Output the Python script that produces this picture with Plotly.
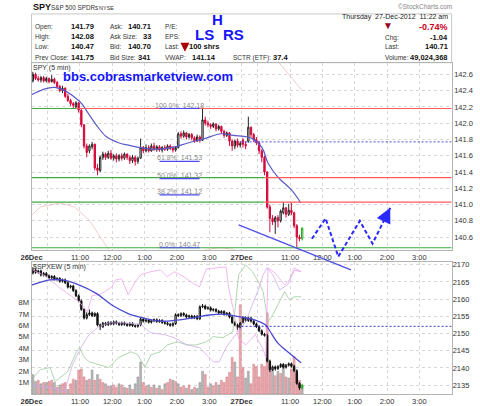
import plotly.graph_objects as go

# ---------------- data ----------------
# SPY 5-min candles, 26-Dec (bars 0-77) and 27-Dec (bars 78-100)
spy_open = [142.52,142.60,142.55,142.53,142.56,142.52,142.55,142.51,142.54,142.50,
142.45,142.40,142.43,142.33,142.28,142.24,142.20,142.25,142.16,141.98,
141.72,141.66,141.71,141.74,141.45,141.42,141.58,141.62,141.58,141.63,
141.57,141.60,141.56,141.60,141.57,141.62,141.58,141.54,141.58,141.53,
141.57,141.70,141.66,141.70,141.66,141.72,141.68,141.71,141.67,141.70,
141.68,141.72,141.69,141.67,141.70,141.87,141.84,141.88,141.83,141.86,
141.82,141.78,141.83,141.79,142.04,142.00,141.98,141.96,141.99,141.93,
141.96,141.90,141.85,141.88,141.78,141.72,141.78,141.73,
141.79,141.74,141.78,141.95,141.86,141.80,141.76,141.66,141.58,141.40,
140.97,140.83,140.79,140.84,140.80,140.90,140.96,140.88,140.93,140.90,
140.74,140.60,140.58]
spy_close = [142.60,142.55,142.53,142.56,142.52,142.55,142.51,142.54,142.50,142.45,
142.40,142.43,142.33,142.28,142.24,142.22,142.25,142.16,141.98,141.72,
141.64,141.72,141.74,141.45,141.42,141.58,141.62,141.58,141.63,141.57,
141.60,141.56,141.60,141.57,141.62,141.58,141.54,141.58,141.53,141.57,
141.70,141.66,141.70,141.66,141.72,141.68,141.71,141.67,141.70,141.68,
141.72,141.69,141.67,141.70,141.87,141.84,141.88,141.83,141.86,141.82,
141.78,141.83,141.79,142.04,142.00,141.98,141.96,141.99,141.93,141.96,
141.90,141.85,141.88,141.78,141.72,141.78,141.73,141.75,
141.74,141.72,141.95,141.86,141.80,141.76,141.66,141.58,141.40,140.97,
140.83,140.79,140.84,140.80,140.92,140.96,140.88,140.93,140.90,140.74,
140.60,140.58,140.71]
spy_high = [142.63,142.62,142.58,142.58,142.58,142.57,142.56,142.59,142.56,142.52,
142.47,142.46,142.44,142.36,142.30,142.26,142.27,142.26,142.17,141.99,
141.75,141.74,141.77,141.75,141.50,141.60,141.65,141.64,141.66,141.67,
141.62,141.63,141.62,141.63,141.64,141.63,141.60,141.61,141.60,141.59,
141.81,141.72,141.74,141.73,141.75,141.76,141.73,141.73,141.72,141.73,
141.74,141.74,141.72,141.72,141.89,141.90,141.91,141.89,141.88,141.88,
141.84,141.86,141.85,142.18,142.08,142.03,142.00,142.01,142.00,141.98,
141.97,141.92,141.90,141.89,141.80,141.80,141.81,141.78,
141.82,141.78,142.08,141.96,141.88,141.83,141.78,141.68,141.60,141.41,
141.00,140.87,140.86,140.87,140.94,141.03,140.97,141.01,141.02,140.91,
140.76,140.63,140.72]
spy_low = [142.50,142.53,142.51,142.50,142.50,142.50,142.49,142.50,142.48,142.43,
142.38,142.37,142.31,142.26,142.21,142.18,142.18,142.13,141.95,141.69,
141.58,141.63,141.68,141.42,141.36,141.40,141.55,141.55,141.56,141.55,
141.54,141.52,141.53,141.54,141.55,141.55,141.50,141.51,141.48,141.50,
141.56,141.63,141.64,141.64,141.65,141.66,141.65,141.65,141.64,141.66,
141.66,141.67,141.64,141.65,141.69,141.81,141.82,141.80,141.81,141.79,
141.76,141.77,141.76,141.78,141.97,141.95,141.93,141.94,141.90,141.91,
141.87,141.82,141.83,141.72,141.66,141.68,141.70,141.70,
141.70,141.68,141.76,141.82,141.77,141.73,141.62,141.52,141.36,140.95,
140.66,140.75,140.64,140.72,140.78,140.88,140.84,140.86,140.87,140.71,
140.47,140.55,140.56]

# SPY moving average (read at sample bars)
spy_ma_bar = [0, 8.7, 17.8, 20.7, 24, 27.6, 32.3, 36, 40.3, 46, 52, 58.4, 64.2, 70.4, 75, 80, 82, 85.6, 87.8, 91.4, 96.5, 100]
spy_ma_val = [142.35, 142.44, 142.27, 142.14, 141.98, 141.84, 141.76, 141.73, 141.70, 141.68, 141.70, 141.76, 141.81,
              141.87, 141.85, 141.83, 141.81, 141.70, 141.51, 141.34, 141.18, 141.02]

# faint overlay line in price panel
spy_ov_bar = [0, 3.3, 10.5, 16, 21.4, 25, 28.7, 30, None, 62, 65, 70, 75, 77, None, 90.5, 100.5]
spy_ov_val = [140.87, 140.97, 141.02, 140.97, 140.81, 140.63, 140.44, 140.40, None, 140.40, 140.45, 140.47, 140.45, 140.40, None, 142.80, 142.40]

# $SPXEW 5-min candles
spx_open = [2167.6,2168.5,2167.8,2168.2,2167.0,2167.5,2166.8,2166.2,2166.6,2165.8,
2166.0,2165.2,2165.6,2164.8,2163.5,2163.8,2162.5,2161.0,2159.5,2157.0,
2154.5,2155.5,2156.0,2155.2,2155.8,2152.5,2152.0,2153.0,2152.6,2153.2,
2152.8,2153.4,2153.0,2152.6,2153.1,2152.7,2152.4,2152.9,2152.3,2152.1,
2152.5,2154.2,2153.6,2153.9,2153.3,2153.7,2154.0,2153.5,2153.8,2153.2,
2153.0,2152.7,2152.4,2152.9,2155.5,2155.2,2155.8,2155.4,2154.8,2155.1,
2154.6,2155.0,2154.3,2157.8,2158.0,2157.3,2157.5,2156.8,2157.0,2156.5,
2156.0,2156.4,2155.6,2155.9,2154.8,2153.2,2152.5,2151.8,
2153.3,2154.6,2153.8,2154.5,2153.6,2152.8,2152.0,2150.8,2149.8,2149.5,
2142.0,2139.5,2140.3,2139.8,2140.4,2141.0,2140.2,2140.8,2141.2,2140.5,
2139.2,2135.5,2134.2]
spx_close = [2168.5,2167.8,2168.2,2167.0,2167.5,2166.8,2166.2,2166.6,2165.8,2166.0,
2165.2,2165.6,2164.8,2163.5,2163.8,2162.5,2161.0,2159.5,2157.0,2154.5,
2155.5,2156.0,2155.2,2155.8,2152.5,2152.0,2153.0,2152.6,2153.2,2152.8,
2153.4,2153.0,2152.6,2153.1,2152.7,2152.4,2152.9,2152.3,2152.1,2152.5,
2154.2,2153.6,2153.9,2153.3,2153.7,2154.0,2153.5,2153.8,2153.2,2153.0,
2152.7,2152.4,2152.9,2155.5,2155.2,2155.8,2155.4,2154.8,2155.1,2154.6,
2155.0,2154.3,2157.8,2158.0,2157.3,2157.5,2156.8,2157.0,2156.5,2156.0,
2156.4,2155.6,2155.9,2154.8,2153.2,2152.5,2151.8,2153.0,
2154.6,2153.8,2154.5,2153.6,2152.8,2152.0,2150.8,2149.8,2149.5,2142.0,
2139.5,2140.3,2139.8,2140.4,2141.0,2140.2,2140.8,2141.2,2140.5,2139.2,
2135.5,2134.2,2135.0]
spx_high = [2169.3,2168.9,2168.6,2168.6,2167.9,2167.9,2167.2,2167.0,2167.0,2166.4,
2166.4,2166.0,2166.0,2165.2,2164.2,2164.2,2162.9,2161.4,2159.9,2157.4,
2156.2,2157.0,2156.4,2156.2,2156.2,2152.9,2153.4,2153.4,2153.6,2153.6,
2153.8,2153.8,2153.4,2153.5,2153.5,2153.1,2153.3,2153.3,2152.7,2152.9,
2154.6,2154.6,2154.3,2154.3,2154.1,2154.4,2154.4,2154.2,2154.2,2153.6,
2153.4,2153.1,2153.3,2155.9,2155.9,2156.2,2156.2,2155.8,2155.5,2155.5,
2155.4,2155.4,2158.2,2158.6,2158.4,2157.9,2157.9,2157.4,2157.4,2156.9,
2156.8,2156.8,2156.3,2156.3,2155.2,2153.6,2152.9,2153.4,
2155.0,2155.0,2154.9,2154.9,2154.0,2153.2,2152.4,2151.2,2150.2,2149.9,
2142.4,2140.7,2140.7,2140.8,2141.4,2141.4,2141.2,2141.6,2141.6,2140.9,
2139.6,2135.9,2135.4]
spx_low = [2167.2,2167.4,2167.4,2166.6,2166.6,2166.4,2165.8,2165.8,2165.4,2165.4,
2164.8,2164.8,2164.4,2163.1,2163.1,2162.1,2160.6,2159.1,2156.6,2154.1,
2154.1,2155.1,2154.8,2154.8,2152.1,2151.0,2151.6,2152.2,2152.2,2152.4,
2152.4,2152.6,2152.2,2152.2,2152.3,2152.0,2152.0,2151.9,2151.7,2151.7,
2152.1,2153.2,2153.2,2152.9,2152.9,2153.3,2153.1,2153.1,2152.8,2152.6,
2152.3,2152.0,2152.0,2152.5,2154.8,2154.8,2155.0,2154.4,2154.4,2154.2,
2154.2,2153.9,2153.9,2157.4,2156.9,2156.9,2156.4,2156.4,2156.1,2155.6,
2155.6,2155.2,2155.2,2154.4,2152.8,2152.1,2151.0,2151.4,
2152.9,2153.4,2153.4,2153.2,2152.4,2151.6,2150.4,2149.4,2149.1,2141.6,
2138.8,2139.1,2139.2,2139.4,2140.0,2139.8,2139.8,2140.4,2140.1,2138.8,
2135.1,2133.6,2133.8]

spx_ma_bar = [0, 6.9, 11.6, 17.8, 24, 29.8, 35.9, 42.1, 47.9, 54.1, 60.2, 66, 72.2, 76.9, 79.5, 83.1, 86.7, 89.3, 91.4, 95.1, 100.1]
spx_ma_val = [2164.1, 2165.6, 2165.6, 2164.1, 2161.7, 2158.3, 2155.8, 2154.4, 2153.6, 2153.9, 2154.6, 2155.4,
              2155.6, 2154.9, 2154.6, 2153.9, 2152.6, 2149.7, 2147.3, 2144.7, 2141.5]

# volume (millions) and bar colour (g = up/grey, p = down/pink)
volume_m = [1.7,1.1,1.2,0.9,1.0,1.0,1.1,1.2,1.0,0.6,
0.8,0.9,1.0,0.4,0.9,1.3,1.2,2.1,2.2,1.5,
1.2,1.3,2.1,1.2,1.7,1.3,1.0,0.9,0.7,0.7,
0.8,0.6,0.9,0.8,0.6,0.5,0.8,0.4,0.9,1.5,
2.8,1.0,0.7,0.8,0.6,0.8,0.5,0.7,0.4,0.9,
1.0,1.3,1.2,1.1,0.9,0.6,0.7,0.5,0.8,0.4,
0.6,0.5,1.0,2.0,1.7,0.6,0.9,0.7,1.0,0.8,
1.2,1.0,1.5,1.9,3.2,2.8,1.5,7.8,
2.3,1.4,2.0,0.9,2.6,2.4,1.5,2.6,2.4,7.1,
2.6,2.3,1.6,2.0,1.8,2.6,1.5,1.4,2.2,3.3,
1.8,1.2,0.7]
volume_dir = ("ggpgpgppgp" "gppgppgppp" "gpgpgppgpg" "ppgpgpgpgg"
              "gppgpgpgpg" "ppgpgppgpg" "pgggppgppg" "pppppgpp"
              "pggppppppp" "pgpgpgpgpp" "ppg")

# faint overlay lines in lower panel (bar, value on $SPXEW scale)
green_bar = [0.7,3.3,6.9,8.7,13.4,16.7,17.8,19.6,21.4,25.0,28.7,32.3,37.0,39.5,42.1,44.3,47.9,50.4,54.1,57.7,61.3,64.9,67.5,71.1,74.7,76.9,79.5,82.0,84.2,86.0,87.8,89.6,91.4,94.0,95.8,97.6,100.1]
green_val = [2137.2,2139.5,2140.1,2136.0,2138.9,2144.7,2145.9,2143.0,2141.8,2140.9,2140.1,2143.0,2144.7,2143.8,2140.1,2143.8,2144.7,2146.7,2147.6,2146.7,2146.7,2147.6,2149.1,2148.8,2150.5,2167.1,2170.0,2168.0,2165.1,2162.2,2153.4,2155.5,2158.4,2162.2,2159.8,2160.7,2160.7]
lav_bar = [0,6.9,12.3,15.2,18.9,21.4,25.0,28.7,34.8,40.6,44.3,49.3,53.0,57.7,62.4,64.9,67.5,69.7,72.2,75.8,79.5,82.0,84.2,86.0,87.4,89.6,92.2,95.1,97.6,100.1]
lav_val = [2135.1,2134.2,2133.1,2140.9,2146.7,2149.7,2152.0,2153.1,2153.1,2152.6,2150.2,2149.7,2148.8,2146.7,2145.9,2143.8,2141.8,2141.8,2145.9,2149.7,2153.4,2158.4,2162.7,2167.1,2169.1,2167.1,2162.7,2164.2,2168.5,2168.0]
pink_bar = [0.4,5.1,10.5,17.8,20.7,22.5,26.1,29.8,31.2,33.4,35.9,38.5,40.6,44.3,47.9,50.4,53.0,56.6,60.2,62.4,64.9,69.7,72.2,73.3,75.1,76.9,79.5,83.1,86.0,87.1,87.8,90.3,94.0,95.8,97.6,100.1]
pink_val = [2168.5,2166.8,2163.3,2159.2,2156.3,2161.0,2161.6,2163.6,2165.6,2165.9,2161.3,2165.1,2167.1,2168.0,2168.5,2166.5,2168.0,2166.5,2164.5,2163.6,2168.8,2169.1,2169.4,2163.0,2156.3,2148.5,2146.7,2149.7,2145.3,2143.0,2169.1,2167.7,2164.2,2165.6,2169.1,2168.0]

# annotation levels
fib_pct = ["100.0%", "61.8%", "50.0%", "38.2%", "0.0%"]
fib_val = [142.18, 141.53, 141.32, 141.12, 140.47]
hline_val = [142.18, 141.33, 141.03, 140.47]
hline_switch_bar = [16.7, 86.4, 86.4, 156]          # green left of this bar, red right of it
spy_dotted_level = 141.77
spx_dotted_level = 2152.1
trend_bar = [76.9, 118.6]
trend_val = [140.75, 140.197]
zig_bar = [104.1, 109.2, 113.9, 121.9, 126.6, 133.2]
zig_val = [140.58, 140.83, 140.36, 140.80, 140.52, 140.96]

tick_bar = [0, 6, 18, 30, 42, 54, 66, 78, 84, 96, 108, 120, 132, 144]
tick_text = ["<b>26Dec</b>", "", "11:00", "12:00", "1:00", "2:00", "3:00",
             "<b>27Dec</b>", "", "11:00", "12:00", "1:00", "2:00", "3:00"]
price_ticks = [140.6, 140.8, 141.0, 141.2, 141.4, 141.6, 141.8, 142.0, 142.2, 142.4, 142.6]
spx_ticks = [2135, 2140, 2145, 2150, 2155, 2160, 2165, 2170]
vol_ticks = [1, 2, 3, 4, 5, 6, 7, 8]

# ---------------- layout geometry ----------------
W, H = 480, 406
PX0, PX1 = 21, 451
PRICE_TOP, PRICE_BOT = 62, 250
LOW_TOP, LOW_BOT = 262, 395
XR = [0, 156]
PR = [140.445, 142.743]
SR = [2132.4, 2170.9]
VR = [0, 11.57]
FONT = "Liberation Sans, Arial, sans-serif"

def fx(px):
    return px / W

def fy(py):
    return 1 - py / H

def bar_px(b):
    return PX0 + (b - XR[0]) / (XR[1] - XR[0]) * (PX1 - PX0)

def price_py(p):
    return PRICE_BOT - (p - PR[0]) / (PR[1] - PR[0]) * (PRICE_BOT - PRICE_TOP)

n = len(spy_close)
xs = [i + 0.5 for i in range(n)]

fig = go.Figure()

fig.add_trace(go.Scatter(x=spy_ov_bar, y=spy_ov_val, mode="lines", xaxis="x", yaxis="y",
                         line=dict(color="rgba(240,160,160,0.55)", width=1), connectgaps=False, hoverinfo="skip"))
fig.add_trace(go.Candlestick(x=xs[:-1], open=spy_open[:-1], high=spy_high[:-1], low=spy_low[:-1], close=spy_close[:-1],
                             xaxis="x", yaxis="y",
                             increasing=dict(line=dict(color="#222222", width=1), fillcolor="white"),
                             decreasing=dict(line=dict(color="#d40a3c", width=1), fillcolor="#d40a3c"),
                             whiskerwidth=0, hoverinfo="skip"))
fig.add_trace(go.Candlestick(x=xs[-1:], open=spy_open[-1:], high=spy_high[-1:], low=spy_low[-1:], close=spy_close[-1:],
                             xaxis="x", yaxis="y",
                             increasing=dict(line=dict(color="#22aa22", width=1), fillcolor="white"),
                             decreasing=dict(line=dict(color="#22aa22", width=1), fillcolor="white"),
                             whiskerwidth=0, hoverinfo="skip"))
fig.add_trace(go.Scatter(x=spy_ma_bar, y=spy_ma_val, mode="lines", xaxis="x", yaxis="y", line_shape="spline",
                         line=dict(color="#5a5ac8", width=1.2), hoverinfo="skip"))

vcol = ["rgba(232,150,158,0.8)" if d == "p" else "rgba(170,170,170,0.85)" for d in volume_dir]
vline = ["rgba(205,110,120,0.9)" if d == "p" else "rgba(140,140,140,0.9)" for d in volume_dir]
fig.add_trace(go.Bar(x=xs, y=volume_m, xaxis="x2", yaxis="y2", marker=dict(color=vcol, line=dict(color=vline, width=0.5)),
                     width=0.72, hoverinfo="skip"))

for bx, vy, col in [(green_bar, green_val, "rgba(150,200,150,0.75)"),
                    (lav_bar, lav_val, "rgba(205,165,240,0.75)"),
                    (pink_bar, pink_val, "rgba(240,160,235,0.75)")]:
    fig.add_trace(go.Scatter(x=bx, y=vy, mode="lines", xaxis="x2", yaxis="y3",
                             line=dict(color=col, width=1), hoverinfo="skip"))

fig.add_trace(go.Candlestick(x=xs[:-1], open=spx_open[:-1], high=spx_high[:-1], low=spx_low[:-1], close=spx_close[:-1],
                             xaxis="x2", yaxis="y3",
                             increasing=dict(line=dict(color="#111111", width=1), fillcolor="white"),
                             decreasing=dict(line=dict(color="#111111", width=1), fillcolor="#111111"),
                             whiskerwidth=0, hoverinfo="skip"))
fig.add_trace(go.Candlestick(x=xs[-1:], open=spx_open[-1:], high=spx_high[-1:], low=spx_low[-1:], close=spx_close[-1:],
                             xaxis="x2", yaxis="y3",
                             increasing=dict(line=dict(color="#22aa22", width=1), fillcolor="white"),
                             decreasing=dict(line=dict(color="#22aa22", width=1), fillcolor="white"),
                             whiskerwidth=0, hoverinfo="skip"))
fig.add_trace(go.Scatter(x=spx_ma_bar, y=spx_ma_val, mode="lines", xaxis="x2", yaxis="y3", line_shape="spline",
                         line=dict(color="#4a4ad0", width=1.3), hoverinfo="skip"))

shapes = []
shapes.append(dict(type="rect", xref="paper", yref="paper", x0=fx(PX0), x1=fx(PX1), y0=fy(PRICE_TOP), y1=fy(13),
                   line=dict(color="#c8c8c8", width=1), layer="below"))
for v, sw in zip(hline_val, hline_switch_bar):
    shapes.append(dict(type="line", xref="x", yref="y", x0=XR[0], x1=sw, y0=v, y1=v,
                       line=dict(color="#3cae3c", width=1.2)))
    if sw < XR[1]:
        shapes.append(dict(type="line", xref="x", yref="y", x0=sw, x1=XR[1], y0=v, y1=v,
                           line=dict(color="#ff5a5a", width=1.2)))
shapes.append(dict(type="line", xref="x", yref="y", x0=78, x1=XR[1], y0=spy_dotted_level, y1=spy_dotted_level,
                   line=dict(color="#4848e0", width=1, dash="2px,2px")))
shapes.append(dict(type="line", xref="x2", yref="y3", x0=78, x1=XR[1], y0=spx_dotted_level, y1=spx_dotted_level,
                   line=dict(color="#3030e0", width=1, dash="2px,2px")))
for v in fib_val:
    shapes.append(dict(type="line", xref="x", yref="y", x0=47.5, x1=62.4, y0=v, y1=v,
                       line=dict(color="#4a4af0", width=1.2)))
shapes.append(dict(type="line", xref="paper", yref="paper",
                   x0=fx(bar_px(trend_bar[0])), y0=fy(price_py(trend_val[0])),
                   x1=fx(bar_px(trend_bar[1])), y1=fy(price_py(trend_val[1])),
                   line=dict(color="#5050e8", width=1.3)))
path = ""
for i, (b, v) in enumerate(zip(zig_bar, zig_val)):
    path += ("M" if i == 0 else " L") + f" {fx(bar_px(b)):.5f} {fy(price_py(v)):.5f}"
shapes.append(dict(type="path", xref="paper", yref="paper", path=path,
                   line=dict(color="#2a2aff", width=2, dash="4px,2.5px")))

ann = []
def T(text, px, py, anchor="left", size=6.5, color="#333333", bold=False):
    ann.append(dict(text=(f"<b>{text}</b>" if bold else text), xref="paper", yref="paper",
                    x=fx(px), y=fy(py), xanchor=anchor, yanchor="middle", showarrow=False, borderpad=0,
                    font=dict(family=FONT, size=size, color=color)))

VB = dict(size=7.5, color="#111111", bold=True)
T("SPY", 21, 6, size=9, color="#111", bold=True)
T("S&P 500 SPDRs", 40, 7, size=6.3, color="#333")
T("NYSE", 89, 7, size=5.5, color="#333")
T("©StockCharts.com", 452, 6, anchor="right", size=6.5, color="#888")
for lab, val, py in [("Open:", "141.79", 26), ("High:", "142.08", 36), ("Low:", "140.47", 46), ("Prev Close:", "141.75", 57)]:
    T(lab, 24, py)
    T(val, 86, py, anchor="right", **VB)
for lab, val, py in [("Ask:", "140.71", 26), ("Ask Size:", "33", 36), ("Bid:", "140.70", 46), ("Bid Size:", "341", 57)]:
    T(lab, 100, py)
    T(val, 144, py, anchor="right", **VB)
for lab, py in [("P/E:", 26), ("EPS:", 36), ("Last:", 46), ("VWAP:", 57)]:
    T(lab, 157, py)
# red down arrow before "100 shrs"
ann.append(dict(text="", xref="paper", yref="paper", x=fx(178), y=fy(51), ax=0, ay=-10,
                showarrow=True, arrowhead=2, arrowsize=1, arrowwidth=1.8, arrowcolor="#aa0000", standoff=0))
T("100 shrs", 181, 46, **VB)
T("141.14", 211, 57, anchor="right", **VB)
T("SCTR (ETF):", 226, 57)
T("37.4", 267, 57, **VB)
T("H", 211, 19, anchor="center", size=15, color="#1414ff", bold=True)
T("LS", 198, 34, anchor="center", size=15, color="#1414ff", bold=True)
T("RS", 228, 34, anchor="center", size=15, color="#1414ff", bold=True)
T("Thursday  27-Dec-2012  11:22 am", 448, 16, anchor="right", size=7, color="#222")
T("▼", 386, 25, anchor="center", size=10, color="#990022")
T("-0.74%", 448, 26, anchor="right", size=9, color="#cc0022", bold=True)
for lab, val, py in [("Chg:", "-1.04", 37), ("Last:", "140.71", 46), ("Volume:", "49,024,368", 57)]:
    T(lab, 382, py)
    T(val, 448, py, anchor="right", **VB)
T("SPY (5 min)", 22, 67, size=7, color="#333")
T("bbs.cobrasmarketview.com", 52, 76, size=13, color="#1414ff", bold=True)
T("$SPXEW (5 min)", 22, 267, size=7, color="#333")

for p, v in zip(fib_pct, fib_val):
    ann.append(dict(text=f"{p}: {v:.2f}", xref="x", yref="y", x=55, y=v, xanchor="center", yanchor="bottom",
                    showarrow=False, yshift=-1, borderpad=0, font=dict(family=FONT, size=7, color="#8a8a8a")))
ann.append(dict(text="", xref="x", yref="y", x=zig_bar[-1], y=zig_val[-1], axref="x", ayref="y",
                ax=zig_bar[-1] - 0.25 * (zig_bar[-1] - zig_bar[-2]), ay=zig_val[-1] - 0.25 * (zig_val[-1] - zig_val[-2]),
                showarrow=True, arrowhead=2, arrowsize=1.5, arrowwidth=2, arrowcolor="#2a2aff", standoff=0))

xdom = [fx(PX0), fx(PX1)]
axis_common = dict(showline=True, mirror=True, linecolor="#b4b4b4", linewidth=1, zeroline=False,
                   tickfont=dict(family=FONT, size=7.5, color="#333"), ticks="")
fig.update_layout(
    width=W, height=H, margin=dict(l=0, r=0, t=0, b=0),
    paper_bgcolor="white", plot_bgcolor="white", showlegend=False,
    shapes=shapes, annotations=ann,
    xaxis=dict(domain=xdom, range=XR, anchor="y", tickvals=tick_bar, ticktext=tick_text,
               showgrid=True, gridcolor="#d8d8d8", griddash="dot", rangeslider=dict(visible=False), **axis_common),
    yaxis=dict(domain=[fy(PRICE_BOT), fy(PRICE_TOP)], range=PR, side="right", anchor="x",
               tickvals=price_ticks, ticktext=[f"{v:.1f}" for v in price_ticks],
               showgrid=True, gridcolor="#d8d8d8", griddash="dot", **axis_common),
    xaxis2=dict(domain=xdom, range=XR, anchor="y2", tickvals=tick_bar, ticktext=tick_text, matches="x",
                showgrid=True, gridcolor="#d8d8d8", griddash="dot", rangeslider=dict(visible=False), **axis_common),
    yaxis2=dict(domain=[fy(LOW_BOT), fy(LOW_TOP)], range=VR, side="left", anchor="x2",
                tickvals=vol_ticks, ticktext=[f"{v}M" for v in vol_ticks], showgrid=False, **axis_common),
    yaxis3=dict(range=SR, side="right", overlaying="y2", anchor="x2",
                tickvals=spx_ticks, ticktext=[str(v) for v in spx_ticks],
                showgrid=True, gridcolor="#d8d8d8", griddash="dot",
                showline=False, zeroline=False, tickfont=dict(family=FONT, size=7.5, color="#333"), ticks=""),
)

fig.write_html("out.html")
